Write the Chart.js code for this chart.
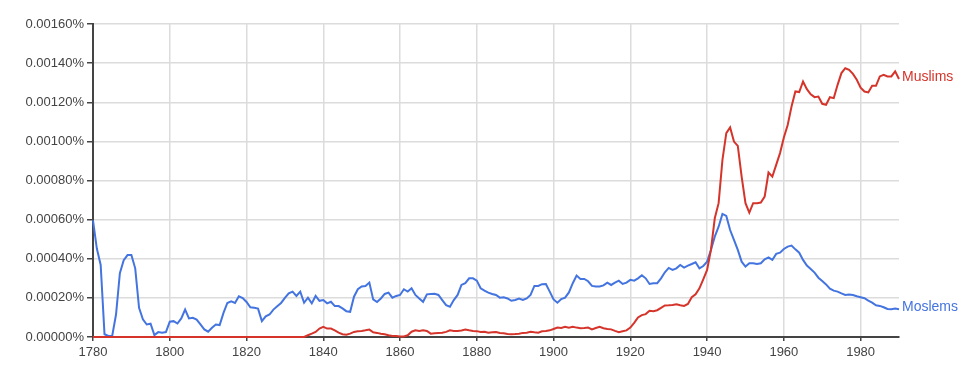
<!DOCTYPE html>
<html>
<head>
<meta charset="utf-8">
<script src="https://cdn.jsdelivr.net/npm/chart.js@4"></script>
<style>
    html, body { margin: 0; padding: 0; background: #fff; }
    #wrap { position: relative; width: 977px; height: 370px; }
</style>
</head>
<body>
<div id="wrap"><canvas id="ngram"></canvas></div>
<script>
// ปี 1780 - 1990 (ทีละปี)
const years = Array.from({ length: 211 }, (_, i) => 1780 + i);

// ค่า (หน่วย %) อ่านจากภาพ
const moslems = [
    0.000596, 0.000452, 0.000368, 0.000014, 0.000005, 0.000005, 0.000115, 0.000326, 0.000393, 0.000419,
    0.000419, 0.000351, 0.000149, 0.000090, 0.000064, 0.000068, 0.000010, 0.000025, 0.000022, 0.000025,
    0.000078, 0.000081, 0.000069, 0.000095, 0.000140, 0.000095, 0.000098, 0.000089, 0.000064, 0.000039,
    0.000027, 0.000047, 0.000064, 0.000061, 0.000123, 0.000174, 0.000182, 0.000174, 0.000208, 0.000199,
    0.000179, 0.000152, 0.000149, 0.000145, 0.000081, 0.000106, 0.000115, 0.000140, 0.000157, 0.000174,
    0.000200, 0.000223, 0.000232, 0.000210, 0.000232, 0.000175, 0.000201, 0.000172, 0.000210, 0.000185,
    0.000189, 0.000172, 0.000180, 0.000158, 0.000158, 0.000146, 0.000132, 0.000129, 0.000206, 0.000244,
    0.000258, 0.000261, 0.000278, 0.000192, 0.000179, 0.000197, 0.000220, 0.000227, 0.000201, 0.000210,
    0.000215, 0.000244, 0.000232, 0.000249, 0.000215, 0.000197, 0.000180, 0.000218, 0.000220, 0.000221,
    0.000215, 0.000189, 0.000163, 0.000155, 0.000189, 0.000215, 0.000266, 0.000275, 0.000300, 0.000300,
    0.000288, 0.000249, 0.000237, 0.000227, 0.000220, 0.000215, 0.000201, 0.000203, 0.000197, 0.000185,
    0.000189, 0.000196, 0.000189, 0.000197, 0.000215, 0.000261, 0.000261, 0.000270, 0.000271, 0.000232,
    0.000192, 0.000175, 0.000194, 0.000201, 0.000228, 0.000275, 0.000314, 0.000297, 0.000297, 0.000285,
    0.000261, 0.000258, 0.000258, 0.000264, 0.000278, 0.000266, 0.000278, 0.000288, 0.000271, 0.000278,
    0.000292, 0.000288, 0.000300, 0.000316, 0.000300, 0.000271, 0.000275, 0.000275, 0.000300, 0.000331,
    0.000353, 0.000343, 0.000351, 0.000368, 0.000355, 0.000365, 0.000373, 0.000382, 0.000351, 0.000363,
    0.000385, 0.000445, 0.000513, 0.000564, 0.000629, 0.000619, 0.000547, 0.000496, 0.000445, 0.000385,
    0.000360, 0.000377, 0.000377, 0.000373, 0.000377, 0.000397, 0.000407, 0.000394, 0.000425, 0.000431,
    0.000450, 0.000462, 0.000467, 0.000448, 0.000431, 0.000394, 0.000365, 0.000348, 0.000329, 0.000303,
    0.000286, 0.000269, 0.000247, 0.000237, 0.000232, 0.000223, 0.000215, 0.000217, 0.000215, 0.000208,
    0.000203, 0.000198, 0.000186, 0.000176, 0.000162, 0.000159, 0.000152, 0.000143, 0.000142, 0.000145,
    0.000142
];

const muslims = [
    0, 0, 0, 0, 0, 0, 0, 0, 0, 0,
    0, 0, 0, 0, 0, 0, 0, 0, 0, 0,
    0, 0, 0, 0, 0, 0, 0, 0, 0, 0,
    0, 0, 0, 0, 0, 0, 0, 0, 0, 0,
    0, 0, 0, 0, 0, 0, 0, 0, 0, 0,
    0, 0, 0, 0, 0, 0, 0.000009, 0.000017, 0.000026, 0.000043,
    0.000052, 0.000043, 0.000043, 0.000034, 0.000022, 0.000014, 0.000012, 0.000017, 0.000026, 0.000029,
    0.000031, 0.000034, 0.000038, 0.000024, 0.000021, 0.000017, 0.000014, 0.000009, 0.000005, 0.000005,
    0.000003, 0.000003, 0.000009, 0.000027, 0.000034, 0.000031, 0.000034, 0.000031, 0.000017, 0.000019,
    0.000021, 0.000022, 0.000026, 0.000034, 0.000031, 0.000031, 0.000033, 0.000038, 0.000034, 0.000031,
    0.000030, 0.000026, 0.000027, 0.000022, 0.000024, 0.000026, 0.000021, 0.000019, 0.000015, 0.000014,
    0.000015, 0.000017, 0.000021, 0.000022, 0.000027, 0.000024, 0.000022, 0.000029, 0.000031, 0.000034,
    0.000041, 0.000048, 0.000046, 0.000052, 0.000048, 0.000052, 0.000048, 0.000045, 0.000046, 0.000048,
    0.000039, 0.000046, 0.000052, 0.000045, 0.000041, 0.000039, 0.000031, 0.000024, 0.000029, 0.000034,
    0.000048, 0.000072, 0.000100, 0.000112, 0.000117, 0.000134, 0.000132, 0.000137, 0.000149, 0.000161,
    0.000162, 0.000164, 0.000167, 0.000162, 0.000159, 0.000169, 0.000203, 0.000218, 0.000249, 0.000295,
    0.000343, 0.000445, 0.000607, 0.000684, 0.000905, 0.001042, 0.001071, 0.000999, 0.000977, 0.000820,
    0.000684, 0.000636, 0.000684, 0.000684, 0.000687, 0.000718, 0.000841, 0.000820, 0.000880, 0.000940,
    0.001020, 0.001084, 0.001178, 0.001255, 0.001252, 0.001306, 0.001267, 0.001241, 0.001226, 0.001229,
    0.001192, 0.001187, 0.001226, 0.001221, 0.001289, 0.001349, 0.001374, 0.001366, 0.001345, 0.001315,
    0.001275, 0.001255, 0.001250, 0.001284, 0.001284, 0.001332, 0.001340, 0.001332, 0.001332, 0.001358,
    0.001319
];

const seriesNames = ['Muslims', 'Moslems'];
const seriesColors = ['#d5342b', '#4374e0'];

const xTicks = [1780, 1800, 1820, 1840, 1860, 1880, 1900, 1920, 1940, 1960, 1980];
const yTicks = [0, 0.0002, 0.0004, 0.0006, 0.0008, 0.001, 0.0012, 0.0014, 0.0016];

const FONT = "Arial, 'Liberation Sans', sans-serif";

function toPoints(values) {
    return values.map((v, i) => ({ x: years[i], y: v }));
}

// ป้ายชื่อเส้นด้านขวา
const endLabels = {
    id: 'endLabels',
    afterDatasetsDraw(chart) {
        const ctx = chart.ctx;
        ctx.save();
        ctx.font = '14px ' + FONT;
        ctx.textBaseline = 'middle';
        ctx.textAlign = 'left';
        chart.data.datasets.forEach((ds, i) => {
            const meta = chart.getDatasetMeta(i);
            const last = meta.data[meta.data.length - 1];
            ctx.fillStyle = ds.borderColor;
            ctx.fillText(ds.label, chart.chartArea.right + 3, last.y - 2);
        });
        ctx.restore();
    }
};

const ctx = document.getElementById('ngram').getContext('2d');

new Chart(ctx, {
    type: 'line',
    data: {
        datasets: [
            {
                label: seriesNames[0],
                data: toPoints(muslims),
                borderColor: seriesColors[0],
                borderWidth: 2,
                pointRadius: 0,
                tension: 0,
                clip: false
            },
            {
                label: seriesNames[1],
                data: toPoints(moslems),
                borderColor: seriesColors[1],
                borderWidth: 2,
                pointRadius: 0,
                tension: 0,
                clip: false
            }
        ]
    },
    options: {
        responsive: true,
        maintainAspectRatio: false,
        animation: false,
        layout: {
            padding: { top: 24, right: 78, left: 0, bottom: 0 }
        },
        plugins: {
            legend: { display: false },
            tooltip: { enabled: false }
        },
        scales: {
            x: {
                type: 'linear',
                min: 1780,
                max: 1990,
                afterBuildTicks: scale => {
                    scale.ticks = xTicks.map(v => ({ value: v }));
                },
                afterFit: scale => {
                    scale.height = 33;
                },
                grid: {
                    color: '#dcdcdc',
                    lineWidth: 1.5,
                    tickColor: '#444',
                    tickLength: 4
                },
                border: { color: '#444', width: 2 },
                ticks: {
                    padding: 4,
                    maxRotation: 0,
                    color: '#444',
                    font: { size: 13, family: FONT },
                    callback: v => String(v)
                }
            },
            y: {
                min: 0,
                max: 0.0016,
                afterBuildTicks: scale => {
                    scale.ticks = yTicks.map(v => ({ value: v }));
                },
                afterFit: scale => {
                    scale.width = 93;
                },
                grid: {
                    color: '#dcdcdc',
                    lineWidth: 1.5,
                    tickColor: '#444',
                    tickLength: 6
                },
                border: { color: '#444', width: 2 },
                ticks: {
                    padding: 3,
                    color: '#444',
                    font: { size: 13, family: FONT },
                    callback: v => v.toFixed(5) + '%'
                }
            }
        }
    },
    plugins: [endLabels]
});
</script>
</body>
</html>
